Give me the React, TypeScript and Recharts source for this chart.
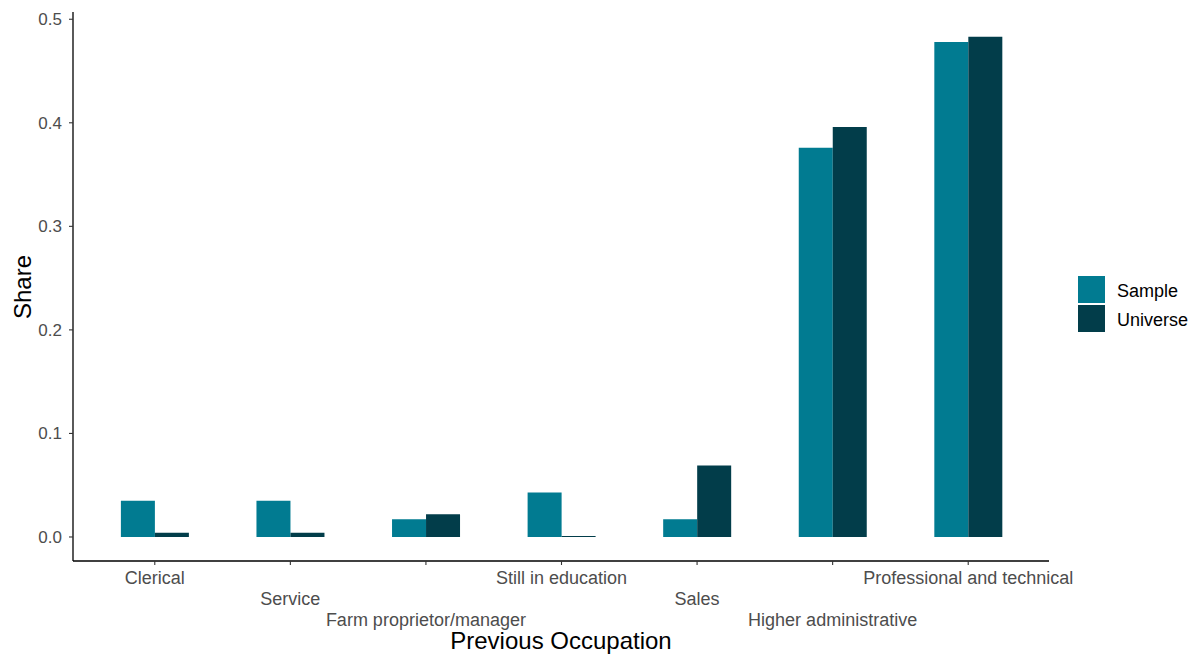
import React from 'react';
import { BarChart, Bar, XAxis, YAxis } from 'recharts';

const categories = [
  'Clerical',
  'Service',
  'Farm proprietor/manager',
  'Still in education',
  'Sales',
  'Higher administrative',
  'Professional and technical',
];
const sampleShare = [0.035, 0.035, 0.017, 0.043, 0.017, 0.376, 0.478];
const universeShare = [0.004, 0.004, 0.022, 0.001, 0.069, 0.396, 0.483];
const yTicks = [0, 0.1, 0.2, 0.3, 0.4, 0.5];
const seriesNames = ['Sample', 'Universe'];
const seriesColors = ['#017b91', '#023d4a'];

const data = categories.map((c, i) => ({
  cat: c,
  Sample: sampleShare[i],
  Universe: universeShare[i],
}));

const FONT = '"Liberation Sans", Arial, Helvetica, sans-serif';

const XTick = (props: any) => {
  const { x, y, payload } = props;
  const idx = categories.indexOf(payload.value);
  const row = idx % 3;
  return (
    <text
      x={x}
      y={y + 17 + row * 21}
      textAnchor="middle"
      fill="#4d4d4d"
      fontSize={18}
      fontFamily={FONT}
    >
      {payload.value}
    </text>
  );
};

export default function App() {
  return (
    <div style={{ position: 'absolute', left: 0, top: 0, width: 1197, height: 655, background: '#fff' }}>
      <BarChart
        width={1197}
        height={655}
        data={data}
        margin={{ top: 12, right: 148, bottom: 0, left: 0 }}
        barCategoryGap="25%"
        barGap={0}
      >
        <XAxis
          dataKey="cat"
          type="category"
          interval={0}
          height={94}
          padding={{ left: 14, right: 13 }}
          tick={<XTick />}
          tickSize={4}
          tickMargin={2}
          axisLine={{ stroke: '#000', strokeWidth: 1.3 }}
          tickLine={{ stroke: '#333', strokeWidth: 1.1 }}
        />
        <YAxis
          type="number"
          width={73}
          domain={[-0.0232, 0.507]}
          allowDataOverflow
          ticks={yTicks}
          tickFormatter={(v: number) => v.toFixed(1)}
          tickSize={4}
          tickMargin={7}
          tick={{ fill: '#4d4d4d', fontSize: 17, fontFamily: FONT }}
          axisLine={{ stroke: '#000', strokeWidth: 1.3 }}
          tickLine={{ stroke: '#333', strokeWidth: 1.1 }}
        />
        <Bar dataKey="Sample" fill={seriesColors[0]} isAnimationActive={false} />
        <Bar dataKey="Universe" fill={seriesColors[1]} isAnimationActive={false} />
      </BarChart>
      <svg
        width={1197}
        height={655}
        style={{ position: 'absolute', left: 0, top: 0, pointerEvents: 'none' }}
      >
        <text
          x={561}
          y={649}
          textAnchor="middle"
          fontSize={24}
          fontFamily={FONT}
          fill="#000"
        >
          Previous Occupation
        </text>
        <text
          transform="translate(31,287) rotate(-90)"
          textAnchor="middle"
          fontSize={24}
          fontFamily={FONT}
          fill="#000"
        >
          Share
        </text>
        {seriesNames.map((n, i) => (
          <g key={n}>
            <rect x={1078} y={276 + i * 29} width={27} height={27} fill={seriesColors[i]} />
            <text x={1117} y={297 + i * 29} fontSize={18} fontFamily={FONT} fill="#000">
              {n}
            </text>
          </g>
        ))}
      </svg>
    </div>
  );
}
